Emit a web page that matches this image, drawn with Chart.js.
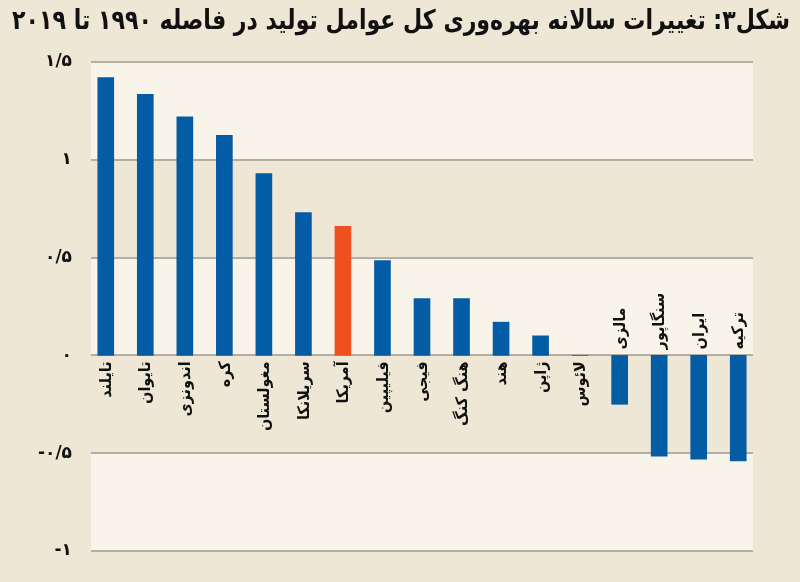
<!DOCTYPE html>
<html lang="fa">
<head>
<meta charset="utf-8">
<script src="https://cdn.jsdelivr.net/npm/chart.js@4.4.1/dist/chart.umd.min.js"></script>
<style>
    html, body { margin: 0; padding: 0; background: #efe7d6; }
    #wrap { width: 800px; height: 582px; }
</style>
</head>
<body>
<div id="wrap"><canvas id="tfpchart" width="800" height="582"></canvas></div>
<script>
const titleText = 'شکل۳: تغییرات سالانه بهره\u200cوری کل عوامل تولید در فاصله ۱۹۹۰ تا ۲۰۱۹';

const countries = ['تایلند', 'تایوان', 'اندونزی', 'کره', 'مغولستان', 'سریلانکا', 'آمریکا', 'فیلیپین', 'فیجی',
    'هنگ کنگ', 'هند', 'ژاپن', 'لائوس', 'مالزی', 'سنگاپور', 'ایران', 'ترکیه'];
const tfpGrowth = [1.42, 1.335, 1.22, 1.125, 0.93, 0.73, 0.66, 0.485, 0.29,
    0.29, 0.17, 0.1, 0, -0.25, -0.515, -0.53, -0.54];
const highlighted = 'آمریکا';

const yTickValues = [-1, -0.5, 0, 0.5, 1, 1.5];
const yTickLabels = ['-۱', '-۰/۵', '۰', '۰/۵', '۱', '۱/۵'];

const blue = '#045ca4';
const orange = '#f0501f';
const bandLight = '#f8f4ea';
const gridColor = '#b3aea3';

// light/dark bands + grid lines, drawn a bit inset like the original
const bandsPlugin = {
    id: 'bands',
    beforeDatasetsDraw(chart) {
        const { ctx, chartArea } = chart;
        const y = chart.scales.y;
        const left = chartArea.left + 5, right = chartArea.right - 5;
        ctx.save();
        for (let i = 0; i < yTickValues.length - 1; i++) {
            if (i % 2 === 0) {
                const top = y.getPixelForValue(yTickValues[i + 1]);
                const bot = y.getPixelForValue(yTickValues[i]);
                ctx.fillStyle = bandLight;
                ctx.fillRect(left, top, right - left, bot - top);
            }
        }
        ctx.strokeStyle = gridColor;
        ctx.lineWidth = 2;
        yTickValues.forEach(v => {
            const py = Math.round(y.getPixelForValue(v));
            ctx.beginPath();
            ctx.moveTo(left, py);
            ctx.lineTo(right, py);
            ctx.stroke();
        });
        ctx.restore();
    }
};

// title + rotated country names next to the zero line
const textPlugin = {
    id: 'texts',
    afterDatasetsDraw(chart) {
        const { ctx } = chart;
        const x = chart.scales.x, y = chart.scales.y;
        const zeroY = y.getPixelForValue(0);
        ctx.save();
        ctx.fillStyle = '#111';
        ctx.direction = 'rtl';
        ctx.font = 'bold 16px "DejaVu Sans"';
        ctx.textBaseline = 'middle';
        countries.forEach((name, i) => {
            const px = x.getPixelForValue(i);
            ctx.save();
            if (tfpGrowth[i] >= 0) {
                ctx.translate(px, zeroY + 6);
                ctx.rotate(-Math.PI / 2);
                ctx.textAlign = 'right';
            } else {
                ctx.translate(px, zeroY - 6);
                ctx.rotate(-Math.PI / 2);
                ctx.textAlign = 'left';
            }
            ctx.scale(0.9, 1);
            ctx.fillText(name, 0, 1);
            ctx.restore();
        });

        // the original uses a narrow bold face: squeeze the title to its width
        ctx.font = 'bold 27px "DejaVu Sans"';
        ctx.textAlign = 'right';
        ctx.textBaseline = 'middle';
        const w = ctx.measureText(titleText).width;
        const sx = Math.min(1, 778 / w);
        ctx.translate(790, 22);
        ctx.scale(sx, 1);
        ctx.fillText(titleText, 0, 0);
        ctx.restore();
    }
};

function renderChart() {
    const ctx = document.getElementById('tfpchart').getContext('2d');
    new Chart(ctx, {
        type: 'bar',
        data: {
            labels: countries,
            datasets: [{
                data: tfpGrowth,
                backgroundColor: countries.map(c => c === highlighted ? orange : blue),
                borderWidth: 0,
                barThickness: 16
            }]
        },
        options: {
            responsive: false,
            animation: false,
            layout: { padding: { top: 62, bottom: 31, left: 0, right: 42 } },
            plugins: {
                legend: { display: false },
                tooltip: { enabled: false },
                title: { display: false }
            },
            scales: {
                x: {
                    display: false,
                    grid: { display: false }
                },
                y: {
                    min: -1,
                    max: 1.5,
                    grid: { display: false },
                    border: { display: false },
                    afterFit(scale) { scale.width = 86; },
                    afterBuildTicks(scale) {
                        scale.ticks = yTickValues.map(v => ({ value: v }));
                    },
                    ticks: {
                        padding: 6,
                        color: '#111',
                        font: { family: 'DejaVu Sans', size: 17, weight: 'bold' },
                        callback: v => yTickLabels[yTickValues.indexOf(v)]
                    }
                }
            }
        },
        plugins: [bandsPlugin, textPlugin]
    });
}
renderChart();
</script>
</body>
</html>
